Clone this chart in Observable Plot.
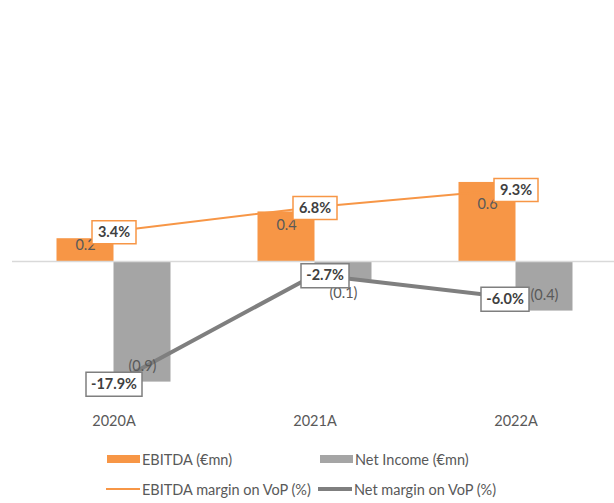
<!DOCTYPE html>
<html><head><meta charset="utf-8">
<script src="https://cdn.jsdelivr.net/npm/d3@7"></script>
<script src="https://cdn.jsdelivr.net/npm/@observablehq/plot@0.6"></script>
<style>
body{margin:0;background:#fff;font-family:Lato,"Open Sans",sans-serif;}
#wrap{position:relative;width:614px;height:503px;overflow:hidden;}
.leg{position:absolute;font-size:14.5px;color:#595959;display:flex;align-items:center;white-space:nowrap;height:20px;}
.sw{display:inline-block;margin-right:2px;}
</style></head><body>
<div id="wrap"><div id="chart"></div>
<div class="leg" style="left:107px;top:449px"><span class="sw" style="width:33px;height:8px;background:#F79646"></span>EBITDA (€mn)</div>
<div class="leg" style="left:320px;top:449px"><span class="sw" style="width:33px;height:8px;background:#A5A5A5"></span>Net Income (€mn)</div>
<div class="leg" style="left:106px;top:479px"><span class="sw" style="width:34px;height:2px;background:#F79646"></span>EBITDA margin on VoP (%)</div>
<div class="leg" style="left:318px;top:479px"><span class="sw" style="width:34px;height:4px;background:#7F7F7F"></span>Net margin on VoP (%)</div>
</div>
<script>
const years = ["2020A", "2021A", "2022A"];
const ebitda = [0.17, 0.37, 0.59];
const netIncome = [-0.90, -0.14, -0.37];
const ebitdaMargin = [3.4, 6.8, 9.3];
const netMargin = [-17.9, -2.7, -6.0];

const rows = years.map((year, i) => ({
  year, ebitda: ebitda[i], net: netIncome[i], em: ebitdaMargin[i], nm: netMargin[i]
}));

// secondary axis (margins, %) mapped onto the primary axis (€mn)
const secondary = d3.scaleLinear([-20, 10], [-1.02, 0.578]);

const f1 = d3.formatLocale({decimal: ".", thousands: ",", grouping: [3], currency: ["", ""], minus: "-"}).format(".1f");
const barLabel = v => v < 0 ? `(${f1(-v)})` : f1(v);
const pctLabel = v => f1(v) + "%";

const box = (w, h) => ({draw(ctx) {
  ctx.moveTo(-w / 2, -h / 2); ctx.lineTo(w / 2, -h / 2);
  ctx.lineTo(w / 2, h / 2); ctx.lineTo(-w / 2, h / 2); ctx.closePath();
}});
const boxWidth = s => s.length <= 4 ? 44 : s.length === 5 ? 48 : 56;

const netShift = [0, 10, -11];

const boxMarks = [];
rows.forEach((d, i) => {
  const le = pctLabel(d.em), ln = pctLabel(d.nm);
  boxMarks.push(
    Plot.dot([d], {x: "year", y: r => secondary(r.em), dy: 1, symbol: box(boxWidth(le), 23), r: 10, fill: "white", stroke: "#F79646", strokeWidth: 1.5}),
    Plot.text([d], {x: "year", y: r => secondary(r.em), dy: 1, text: () => le, fontWeight: "bold", fontSize: 14.5, fill: "#404040"}),
    Plot.dot([d], {x: "year", y: r => secondary(r.nm), dx: netShift[i], dy: 1, symbol: box(boxWidth(ln), 24), r: 10, fill: "white", stroke: "#7F7F7F", strokeWidth: 1.5}),
    Plot.text([d], {x: "year", y: r => secondary(r.nm), dx: netShift[i], dy: 1, text: () => ln, fontWeight: "bold", fontSize: 14.5, fill: "#404040"})
  );
});

const chart = Plot.plot({
  width: 614,
  height: 440,
  marginTop: 127, marginBottom: 31.6, marginLeft: 12, marginRight: 0,
  style: {fontFamily: "Lato, 'Open Sans', sans-serif", fontSize: "14.5px", color: "#595959", background: "white"},
  x: {type: "band", domain: years, range: [12.5, 615.5], padding: 0, tickSize: 0, tickPadding: 7, label: null},
  y: {domain: [-1.1, 1.0], axis: null},
  marks: [
    Plot.barY(rows, {x: "year", y: "ebitda", fill: "#F79646", insetLeft: 43.5, insetRight: 100.5}),
    Plot.barY(rows, {x: "year", y: "net", fill: "#A5A5A5", insetLeft: 100.5, insetRight: 43.5}),
    Plot.ruleY([0], {stroke: "#D9D9D9", strokeWidth: 1.5}),
    Plot.line(rows, {x: "year", y: d => secondary(d.em), stroke: "#F79646", strokeWidth: 2}),
    Plot.line(rows, {x: "year", y: d => secondary(d.nm), stroke: "#7F7F7F", strokeWidth: 4}),
    Plot.text(rows, {x: "year", y: d => d.ebitda * 0.72, dx: -28.5, text: d => barLabel(d.ebitda), fill: "#595959", fontSize: 14.5}),
    Plot.text(rows.filter(d => d.net < -0.2), {x: "year", y: "net", dx: 28.5, dy: -16, text: d => barLabel(d.net), fill: "#595959", fontSize: 14.5}),
    Plot.text(rows.filter(d => d.net >= -0.2), {x: "year", y: "net", dx: 28.5, dy: 13, text: d => barLabel(d.net), fill: "#595959", fontSize: 14.5}),
    ...boxMarks
  ]
});
document.getElementById("chart").appendChild(chart);
</script>
</body></html>
